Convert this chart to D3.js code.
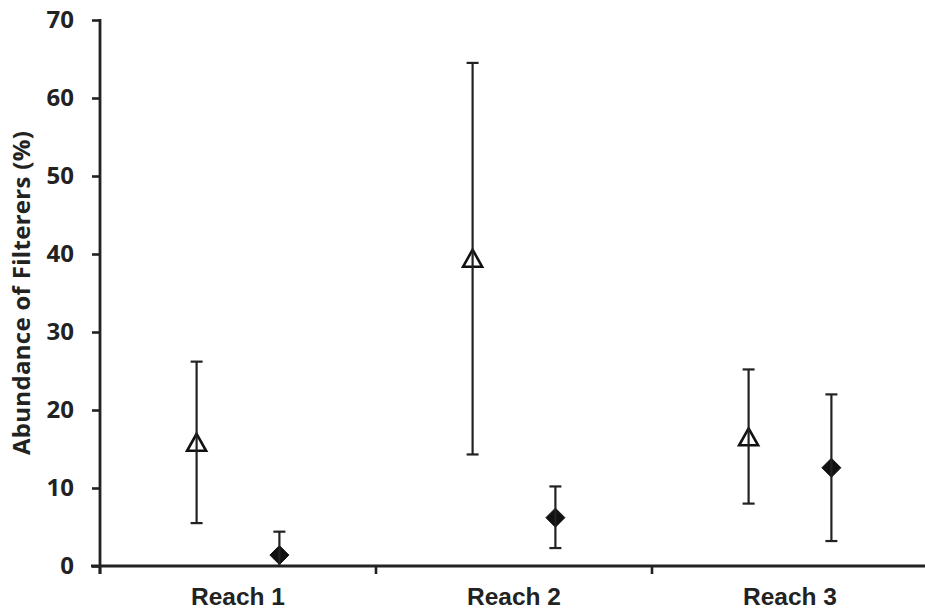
<!DOCTYPE html>
<html>
<head>
<meta charset="utf-8">
<script src="https://cdn.jsdelivr.net/npm/d3@7"></script>
<style>
  body { margin: 0; background: #fff; }
  svg { display: block; }
</style>
</head>
<body>
<div id="chart"></div>
<script>
// data
const reaches = ['Reach 1', 'Reach 2', 'Reach 3'];
const seriesNames = ['open', 'filled'];
const openMean = [15.8, 39.4, 16.5];
const openLow = [5.5, 14.3, 8.0];
const openHigh = [26.2, 64.5, 25.2];
const filledMean = [1.4, 6.2, 12.6];
const filledLow = [-1.6, 2.3, 3.2];
const filledHigh = [4.4, 10.2, 22.0];
const yTicks = [0, 10, 20, 30, 40, 50, 60, 70];

const W = 925, H = 612;
const margin = {top: 20, right: -3, bottom: 46, left: 100};
const height = H - margin.top - margin.bottom;
const ink = '#222';

const svg = d3.select('#chart').append('svg')
  .attr('width', W)
  .attr('height', H);

const x = d3.scaleBand()
  .domain(reaches)
  .range([margin.left, W - margin.right]);

// two markers per reach, either side of the band centre
const xs = d3.scalePoint()
  .domain(seriesNames)
  .range([x.bandwidth() * 0.35, x.bandwidth() * 0.65]);

const y = d3.scaleLinear()
  .domain([0, 70])
  .range([margin.top + height, margin.top]);

const rows = [];
reaches.forEach(function(r, i) {
  rows.push({reach: r, s: 'open', v: openMean[i], lo: openLow[i], hi: openHigh[i]});
  rows.push({reach: r, s: 'filled', v: filledMean[i], lo: filledLow[i], hi: filledHigh[i]});
});
const px = function(d) { return x(d.reach) + xs(d.s); };

svg.append('clipPath').attr('id', 'plot')
  .append('rect')
  .attr('x', margin.left).attr('y', 0)
  .attr('width', W).attr('height', y(0));

// markers
const tri = 'M0,-9L9.5,8L-9.5,8Z';
const dia = 'M0,-9.5L9.5,0L0,9.5L-9.5,0Z';
svg.append('g').selectAll('path')
  .data(rows)
  .enter().append('path')
  .attr('transform', function(d) { return 'translate(' + px(d) + ',' + y(d.v) + ')'; })
  .attr('d', function(d) { return d.s === 'open' ? tri : dia; })
  .attr('fill', function(d) { return d.s === 'open' ? '#fff' : '#111'; })
  .attr('stroke', '#111')
  .attr('stroke-width', function(d) { return d.s === 'open' ? 2.6 : 1; })
  .attr('stroke-linejoin', 'miter');

// error bars
const err = svg.append('g')
  .attr('clip-path', 'url(#plot)')
  .attr('stroke', ink)
  .attr('stroke-width', 2.2);

err.selectAll('line.bar')
  .data(rows)
  .enter().append('line')
  .attr('class', 'bar')
  .attr('x1', px).attr('x2', px)
  .attr('y1', function(d) { return y(d.lo); })
  .attr('y2', function(d) { return y(d.hi); });

['lo', 'hi'].forEach(function(k) {
  err.selectAll('line.cap-' + k)
    .data(rows)
    .enter().append('line')
    .attr('class', 'cap-' + k)
    .attr('x1', function(d) { return px(d) - 6; })
    .attr('x2', function(d) { return px(d) + 6; })
    .attr('y1', function(d) { return y(d[k]); })
    .attr('y2', function(d) { return y(d[k]); });
});

// Y axis
const yAxis = d3.axisLeft(y)
  .tickValues(yTicks)
  .tickSize(8)
  .tickPadding(18);

const gy = svg.append('g')
  .attr('transform', 'translate(' + margin.left + ',0)')
  .call(yAxis);
gy.select('.domain').remove();
gy.append('line')
  .attr('y1', y(70) - 1).attr('y2', y(0) + 8)
  .attr('stroke', ink).attr('stroke-width', 2.8);
gy.selectAll('.tick line').attr('stroke', ink).attr('stroke-width', 2.6);
gy.selectAll('.tick text')
  .attr('fill', ink)
  .style('font-family', "'Open Sans', sans-serif")
  .style('font-weight', '700')
  .style('font-size', '24px');

// X axis
const xAxis = d3.axisBottom(x)
  .tickSize(0)
  .tickPadding(22);

const gx = svg.append('g')
  .attr('transform', 'translate(0,' + y(0) + ')')
  .call(xAxis);
gx.select('.domain').remove();
gx.append('line')
  .attr('x1', margin.left - 9).attr('x2', W)
  .attr('stroke', ink).attr('stroke-width', 2.8);
gx.selectAll('line.bound')
  .data(reaches)
  .enter().append('line')
  .attr('class', 'bound')
  .attr('x1', function(d) { return x(d); })
  .attr('x2', function(d) { return x(d); })
  .attr('y1', 0).attr('y2', 8)
  .attr('stroke', ink).attr('stroke-width', 2.6);
gx.selectAll('.tick text')
  .attr('fill', ink)
  .style('font-family', "'Liberation Sans', Arial, sans-serif")
  .style('font-weight', '700')
  .style('font-size', '24.5px');

// Y title
svg.append('text')
  .attr('transform', 'translate(30,' + y(35) + ') rotate(-90)')
  .attr('text-anchor', 'middle')
  .attr('fill', ink)
  .style('font-family', "'Open Sans', sans-serif")
  .style('font-weight', '700')
  .style('font-size', '24px')
  .style('letter-spacing', '0.3px')
  .text('Abundance of Filterers (%)');
</script>
</body>
</html>
